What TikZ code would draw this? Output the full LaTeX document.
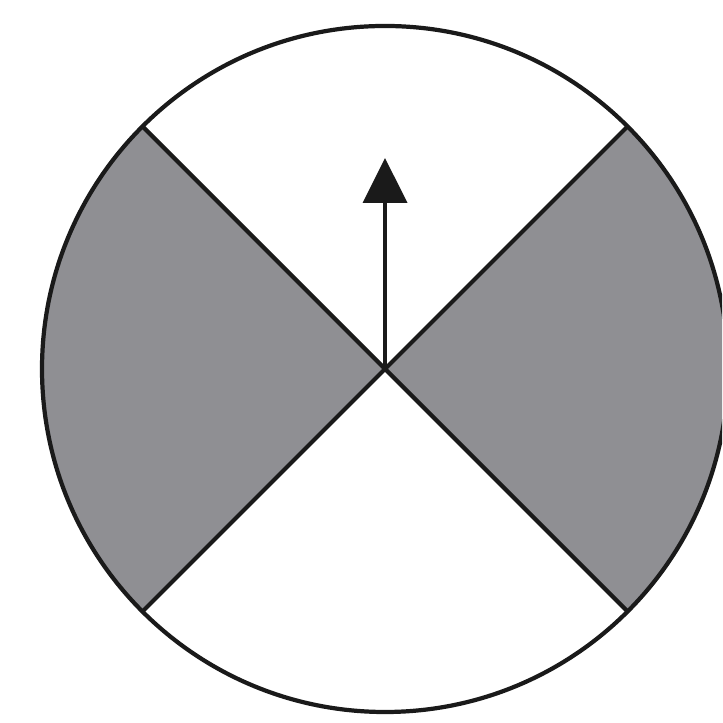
\documentclass[tikz,border=0pt]{standalone}
\usepackage{tikz}
\usetikzlibrary{arrows.meta}
\definecolor{spingray}{HTML}{8F8F93}
\definecolor{ink}{HTML}{1A1A1A}
\tikzset{
    rim/.style={draw=ink, line width=1.2pt},
    wedge/.style={fill=spingray},
    spoke/.style={draw=ink, line width=1.2pt},
    arr/.style={-{Triangle[length=0.45cm, width=0.44cm]}, draw=ink, line width=1.1pt}
}
\begin{document}
\begin{tikzpicture}
    \useasboundingbox (0,0) rectangle (7.22,7.23);
    \clip (0,0) rectangle (7.22,7.23);
    \fill[white] (0,0) rectangle (7.22,7.23);
    \coordinate (hub) at (3.85,3.54);
    \def\rad{3.43}
    % shaded sectors
    \fill[wedge] (hub) -- ++(135:\rad) arc[start angle=135, end angle=225, radius=\rad] -- cycle;
    \fill[wedge] (hub) -- ++(-45:\rad) arc[start angle=-45, end angle=45, radius=\rad] -- cycle;
    % dividing lines
    \draw[spoke] (hub) ++(45:\rad) -- ++(225:2*\rad);
    \draw[spoke] (hub) ++(135:\rad) -- ++(315:2*\rad);
    \draw[rim] (hub) circle[radius=\rad];
    % pointer
    \coordinate (tip) at (3.85,5.65);
    \draw[arr] (hub) -- (tip);
\end{tikzpicture}
\end{document}
